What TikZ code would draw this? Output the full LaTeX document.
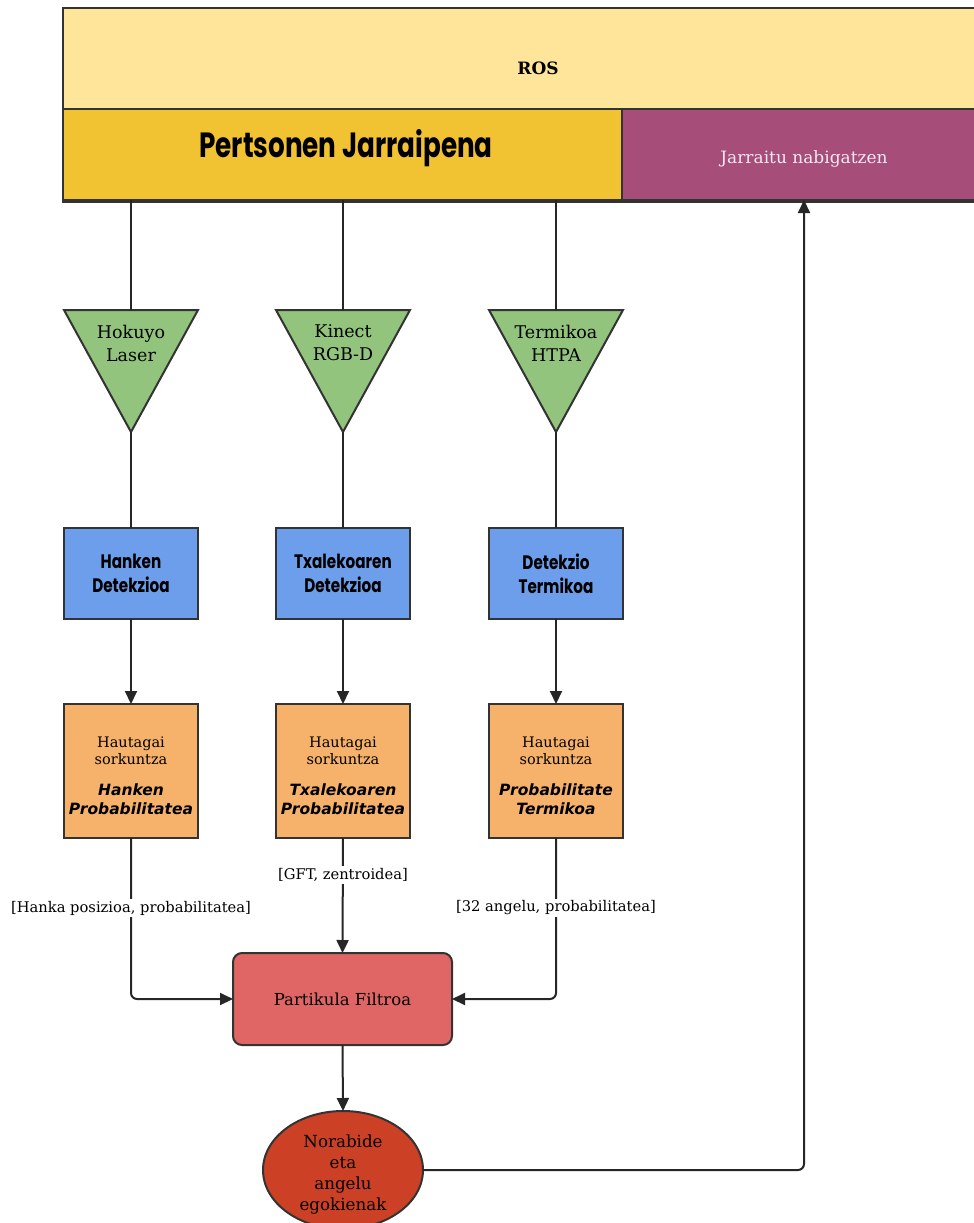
\documentclass[tikz,border=0pt]{standalone}
\usepackage{fontspec}
\setmainfont{DejaVu Serif}
\newfontfamily\sansbi{DejaVu Sans}
\newfontfamily\cond{Poppins}[FakeStretch=0.75]
\newfontfamily\condb{Poppins}[FakeStretch=0.78]
\usetikzlibrary{arrows.meta,shapes.geometric,calc}
\definecolor{edgec}{HTML}{333333}
\definecolor{rosc}{HTML}{FFE599}
\definecolor{pjc}{HTML}{F1C232}
\definecolor{jnc}{HTML}{A64D79}
\definecolor{jntxt}{HTML}{F6E8F0}
\definecolor{greenc}{HTML}{93C47D}
\definecolor{bluec}{HTML}{6D9EEB}
\definecolor{orangec}{HTML}{F6B26B}
\definecolor{redc}{HTML}{E06666}
\definecolor{ellc}{HTML}{CC4125}
\tikzset{
  shp/.style={draw=edgec, line width=2pt, inner sep=0pt, outer sep=0pt},
  hdr/.style={shp, rectangle},
  tri/.style={draw=edgec, line width=2pt, fill=greenc, line join=miter},
  bluebox/.style={shp, rectangle, fill=bluec, minimum width=134pt, minimum height=91pt,
    font=\condb\bfseries\fontsize{19.5}{24}\selectfont, align=center},
  orbox/.style={shp, rectangle, fill=orangec, minimum width=134pt, minimum height=134pt},
  small/.style={font=\fontsize{14.5}{16.5}\selectfont, align=center, inner sep=1pt},
  bi/.style={font=\sansbi\bfseries\itshape\fontsize{15.5}{19}\selectfont, align=center, inner sep=0pt},
  tritxt/.style={font=\fontsize{17.5}{23}\selectfont, align=center, inner sep=0pt},
  conn/.style={draw=black!85, line width=2pt},
  arr/.style={conn, -{Triangle[length=13pt,width=12pt]}},
  lbl/.style={font=\fontsize{14.7}{16}\selectfont, fill=white, inner sep=2pt},
}
\begin{document}
\begin{tikzpicture}[x=1pt,y=-1pt]
\useasboundingbox (0,0) rectangle (974,1223);
% header
\node[hdr, fill=rosc, minimum width=950pt, minimum height=193.5pt] (ros) at (538,104.75) {};
\node[font=\bfseries\fontsize{17}{18}\selectfont] (rostxt) at (538,68) {ROS};
\node[hdr, fill=pjc, minimum width=559pt, minimum height=91pt] (pj) at (342.5,154.5) {};
\node[font=\cond\bfseries\fontsize{35}{38}\selectfont] (pjtxt) at (346,148) {Pertsonen Jarraipena};
\node[hdr, fill=jnc, minimum width=364pt, minimum height=91pt] (jn) at (804,154.5) {};
\node[font=\fontsize{17}{18}\selectfont, text=jntxt] (jntxtn) at (804,159) {Jarraitu nabigatzen};
% triangles
\foreach \i/\x in {1/131,2/343,3/556}{
  \path[tri] (\x-67,310) -- (\x+67,310) -- (\x,432) -- cycle;
  \coordinate (t\i top) at (\x,310);
  \coordinate (t\i apex) at (\x,432);
}
\node[tritxt] (s1) at (131,343) {Hokuyo\\Laser};
\node[tritxt] (s2) at (343,343) {Kinect\\RGB-D};
\node[tritxt] (s3) at (556,343) {Termikoa\\HTPA};
\draw[conn] (pj.south -| t1top) -- (t1top);
\draw[conn] (pj.south -| t2top) -- (t2top);
\draw[conn] (pj.south -| t3top) -- (t3top);
% detection boxes
\node[bluebox] (d1) at (131,573.5) {Hanken\\Detekzioa};
\node[bluebox] (d2) at (343,573.5) {Txalekoaren\\Detekzioa};
\node[bluebox] (d3) at (556,573.5) {Detekzio\\Termikoa};
\draw[conn] (t1apex) -- (d1.north);
\draw[conn] (t2apex) -- (d2.north);
\draw[conn] (t3apex) -- (d3.north);
% candidate boxes
\node[orbox] (o1) at (131,771) {};
\node[orbox] (o2) at (343,771) {};
\node[orbox] (o3) at (556,771) {};
\foreach \n/\x in {1/131,2/343,3/556}{
  \node[small] (o\n a) at (\x,751) {Hautagai\\sorkuntza};
}
\node[bi] (o1b) at (131,799) {Hanken\\Probabilitatea};
\node[bi] (o2b) at (343,799) {Txalekoaren\\Probabilitatea};
\node[bi] (o3b) at (556,799) {Probabilitate\\Termikoa};
\draw[arr] (d1) -- (o1);
\draw[arr] (d2) -- (o2);
\draw[arr] (d3) -- (o3);
% particle filter
\node[shp, rectangle, rounded corners=9pt, fill=redc, minimum width=219pt, minimum height=92pt,
  font=\fontsize{16.5}{18}\selectfont] (pf) at (342.5,999) {Partikula Filtroa};
\draw[arr, rounded corners=6pt] (o1.south) |- (pf.west);
\draw[arr] (o2.south) -- (pf.north);
\draw[arr, rounded corners=6pt] (o3.south) |- (pf.east);
\node[lbl] (l1) at (131,908) {[Hanka posizioa, probabilitatea]};
\node[lbl] (l2) at (343,875) {[GFT, zentroidea]};
\node[lbl] (l3) at (556,908) {[32 angelu, probabilitatea]};
% result
\node[shp, ellipse, fill=ellc, minimum width=160pt, minimum height=118pt] (ell) at (343,1170) {};
\node[font=\fontsize{16.7}{21}\selectfont, align=center, inner sep=0pt] (elltxt) at (343,1174) {Norabide\\eta\\angelu\\egokienak};
\draw[arr] (pf.south) -- (ell.north);
\draw[arr, rounded corners=6pt] (ell.east) -| (jn.south);
\end{tikzpicture}
\end{document}
